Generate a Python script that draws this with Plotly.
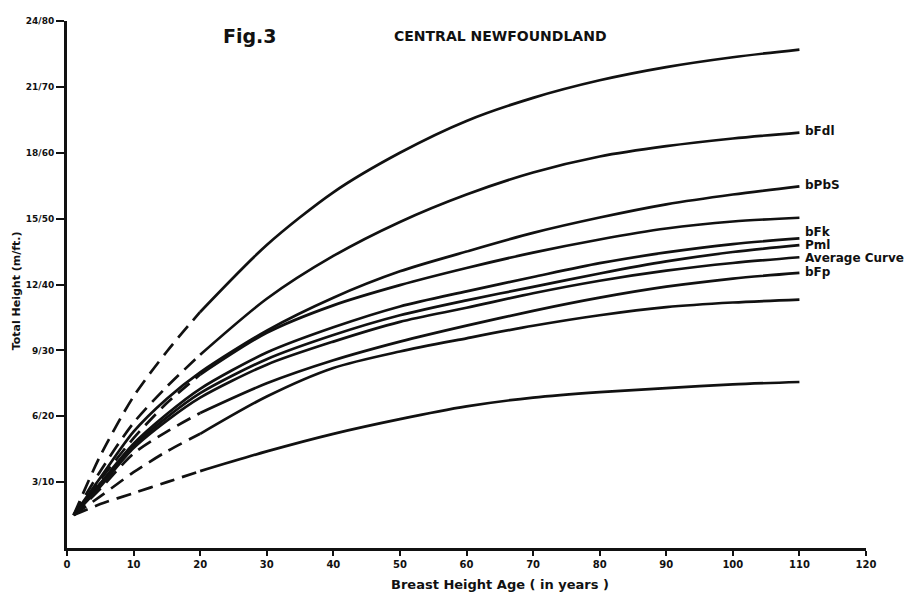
import plotly.graph_objects as go

# ---- data ----
ages = [1, 5, 10, 15, 20, 30, 40, 50, 60, 70, 80, 90, 100, 110]

curve_top = [1.5, 4.2, 6.9, 8.95, 10.75, 13.8, 16.2, 18.0, 19.45, 20.5, 21.3, 21.9, 22.35, 22.7]
curve_bFdl = [1.5, 3.5, 5.7, 7.35, 8.8, 11.35, 13.3, 14.85, 16.1, 17.1, 17.83, 18.3, 18.65, 18.92]
curve_bPbS = [1.5, 3.2, 5.3, 6.8, 8.0, 9.9, 11.4, 12.6, 13.5, 14.35, 15.05, 15.65, 16.1, 16.47]
curve_4 = [1.5, 3.1, 5.0, 6.6, 7.9, 9.8, 11.05, 11.97, 12.75, 13.45, 14.05, 14.55, 14.87, 15.04]
curve_bFk = [1.5, 2.95, 4.75, 6.1, 7.25, 8.9, 10.05, 11.0, 11.69, 12.34, 12.97, 13.46, 13.84, 14.1]
curve_Pml = [1.5, 2.85, 4.65, 5.95, 7.05, 8.6, 9.7, 10.6, 11.28, 11.89, 12.5, 13.05, 13.48, 13.79]
curve_avg = [1.5, 2.8, 4.55, 5.8, 6.85, 8.35, 9.4, 10.3, 10.94, 11.6, 12.17, 12.63, 12.98, 13.24]
curve_bFp = [1.5, 2.7, 4.3, 5.3, 6.15, 7.5, 8.55, 9.4, 10.13, 10.8, 11.4, 11.9, 12.27, 12.53]
curve_9 = [1.5, 2.35, 3.45, 4.4, 5.2, 6.9, 8.2, 8.95, 9.55, 10.12, 10.6, 10.97, 11.18, 11.31]
curve_bottom = [1.5, 2.0, 2.5, 3.0, 3.5, 4.4, 5.2, 5.87, 6.45, 6.85, 7.1, 7.28, 7.45, 7.56]

# (values, dashed at early ages?)
curves = [
    (curve_top, True),
    (curve_bFdl, True),
    (curve_bPbS, False),
    (curve_4, True),
    (curve_bFk, False),
    (curve_Pml, False),
    (curve_avg, False),
    (curve_bFp, True),
    (curve_9, True),
    (curve_bottom, True),
]

curve_labels = ["bFdl", "bPbS", "bFk", "Pml", "Average Curve", "bFp"]
label_y = [18.97, 16.53, 14.4, 13.82, 13.19, 12.56]

y_tickvals = [3, 6, 9, 12, 15, 18, 21, 24]
y_ticktext = ["3/10", "6/20", "9/30", "12/40", "15/50", "18/60", "21/70", "24/80"]
x_tickvals = [0, 10, 20, 30, 40, 50, 60, 70, 80, 90, 100, 110, 120]

INK = "#111111"
DASH_SPLIT = 4  # index of age 20

fig = go.Figure()
for vals, dashed in curves:
    if dashed:
        fig.add_trace(go.Scatter(
            x=ages[:DASH_SPLIT + 1], y=vals[:DASH_SPLIT + 1], mode="lines",
            line=dict(color=INK, width=2.7, dash="15px,8px", shape="spline", smoothing=0.8),
            hoverinfo="skip"))
        fig.add_trace(go.Scatter(
            x=ages[DASH_SPLIT:], y=vals[DASH_SPLIT:], mode="lines",
            line=dict(color=INK, width=2.7, shape="spline", smoothing=0.8),
            hoverinfo="skip"))
    else:
        fig.add_trace(go.Scatter(
            x=ages, y=vals, mode="lines",
            line=dict(color=INK, width=2.7, shape="spline", smoothing=0.8),
            hoverinfo="skip"))

bold = dict(family="DejaVu Sans", color=INK, weight="bold")

for lab, ly in zip(curve_labels, label_y):
    fig.add_annotation(x=110.6, y=ly, xref="x", yref="y", text=lab, showarrow=False,
                       xanchor="left", yanchor="middle", font=dict(size=12, **bold))

fig.add_annotation(x=0.229, y=0.972, xref="paper", yref="paper", text="Fig.3",
                   showarrow=False, xanchor="center", yanchor="middle",
                   font=dict(size=19, **bold))
fig.add_annotation(x=0.542, y=0.972, xref="paper", yref="paper", text="CENTRAL NEWFOUNDLAND",
                   showarrow=False, xanchor="center", yanchor="middle",
                   font=dict(size=14, **bold))
fig.add_annotation(x=0, y=0.487, xref="paper", yref="paper", text="Total Height (m/ft.)",
                   showarrow=False, textangle=-90, xanchor="center", yanchor="middle",
                   xshift=-51, font=dict(size=11, **bold))
fig.add_annotation(x=0.542, y=0, xref="paper", yref="paper",
                   text="Breast Height Age ( in years )", showarrow=False,
                   xanchor="center", yanchor="middle", yshift=-36,
                   font=dict(size=13, **bold))

# page body has an 8px margin, so the figure is sized to fit the 920x597 window
fig.update_layout(
    width=912, height=589,
    margin=dict(l=59, r=54, t=8, b=49),
    paper_bgcolor="white", plot_bgcolor="white",
    showlegend=False,
    xaxis=dict(range=[0, 120], tickvals=x_tickvals, showgrid=False, zeroline=False,
               showline=True, linecolor=INK, linewidth=2.5, ticks="outside",
               ticklen=5, tickwidth=2, tickcolor=INK,
               tickfont=dict(size=10, **bold)),
    yaxis=dict(range=[0, 24], tickvals=y_tickvals, ticktext=y_ticktext, showgrid=False,
               zeroline=False, showline=True, linecolor=INK, linewidth=3,
               ticks="outside", ticklen=8, tickwidth=2, tickcolor=INK,
               tickfont=dict(size=9, **bold)),
)

fig.write_html("out.html")
